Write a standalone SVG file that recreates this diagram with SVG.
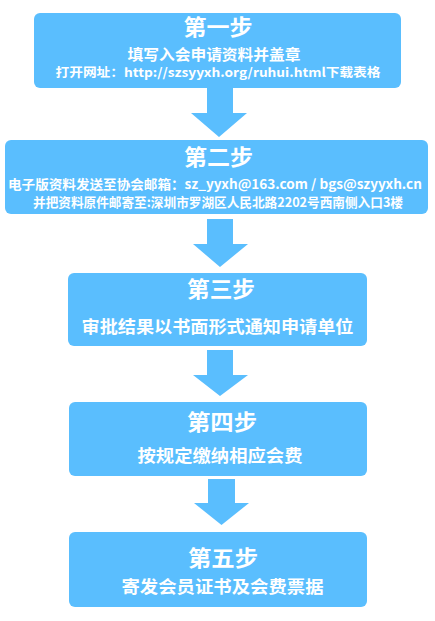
<svg xmlns="http://www.w3.org/2000/svg" width="435" height="621" viewBox="0 0 435 621">
<style>
.box{fill:#5ABEFE;}
.arr{fill:#5ABEFE;}
text{fill:#FFFFFF;font-family:"Noto Sans CJK SC","Liberation Sans",sans-serif;font-weight:bold;text-anchor:middle;}
.t{font-size:22px;}
.m{font-size:15px;}
.s{font-size:13px;}
.s2{font-size:12.5px;}
.l{font-size:17px;}
</style>
<rect width="435" height="621" fill="#FFFFFF"/>
<g id="connectors">
<polygon class="arr" points="207,88 233,88 233,113 247,113 219,137 191,113 207,113"/>
<polygon class="arr" points="207,219 233,219 233,244 248,244 220,267 193,244 207,244"/>
<polygon class="arr" points="207,350 233,350 233,375 248,375 220,396 193,375 207,375"/>
<polygon class="arr" points="208,479 235,479 235,503 249,503 221.5,525 194,503 208,503"/>
</g>
<g id="step1">
<rect class="box" x="34" y="13" width="367" height="75" rx="6"/>
<text class="t" x="218" y="35" textLength="69" lengthAdjust="spacingAndGlyphs">第一步</text>
<text class="m" x="214" y="60" textLength="173" lengthAdjust="spacingAndGlyphs">填写入会申请资料并盖章</text>
<text class="s2" x="218" y="77" textLength="325" lengthAdjust="spacingAndGlyphs">打开网址：http://szsyyxh.org/ruhui.html下载表格</text>
</g>
<g id="step2">
<rect class="box" x="5" y="140" width="423" height="74" rx="6"/>
<text class="t" x="218.5" y="165" textLength="69" lengthAdjust="spacingAndGlyphs">第二步</text>
<text class="s" x="215" y="189" textLength="414" lengthAdjust="spacingAndGlyphs">电子版资料发送至协会邮箱：sz_yyxh@163.com / bgs@szyyxh.cn</text>
<text class="s" x="218" y="207" textLength="370" lengthAdjust="spacingAndGlyphs">并把资料原件邮寄至:深圳市罗湖区人民北路2202号西南侧入口3楼</text>
</g>
<g id="step3">
<rect class="box" x="68" y="273" width="299" height="73" rx="6"/>
<text class="t" x="221" y="297" textLength="68" lengthAdjust="spacingAndGlyphs">第三步</text>
<text class="l" x="217.5" y="332.5" textLength="272" lengthAdjust="spacingAndGlyphs">审批结果以书面形式通知申请单位</text>
</g>
<g id="step4">
<rect class="box" x="69" y="402" width="298" height="74" rx="6"/>
<text class="t" x="222" y="430" textLength="70" lengthAdjust="spacingAndGlyphs">第四步</text>
<text class="l" x="220" y="462" textLength="165" lengthAdjust="spacingAndGlyphs">按规定缴纳相应会费</text>
</g>
<g id="step5">
<rect class="box" x="69" y="532" width="298" height="75" rx="6"/>
<text class="t" x="223" y="565.5" textLength="70" lengthAdjust="spacingAndGlyphs">第五步</text>
<text class="l" x="222.5" y="593" textLength="202" lengthAdjust="spacingAndGlyphs">寄发会员证书及会费票据</text>
</g>
</svg>
